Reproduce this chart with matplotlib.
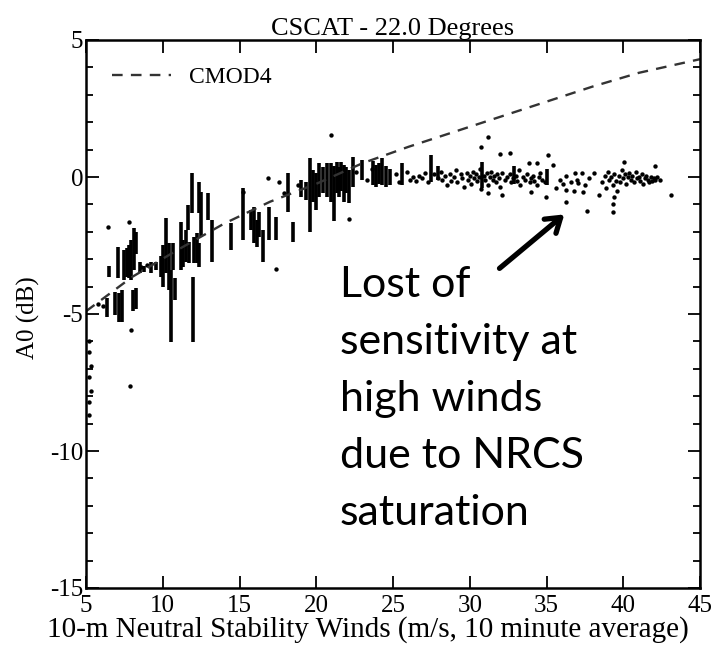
import matplotlib
matplotlib.use("Agg")
import matplotlib.pyplot as plt
from matplotlib.ticker import MultipleLocator

# CMOD4 model curve (wind speed, dB)
cmod_u = [5, 8, 11, 14, 17, 20, 23, 26, 29, 32, 35, 38, 41, 45]
cmod_db = [-4.9, -3.65, -2.65, -1.7, -0.9, -0.25, 0.5, 1.1, 1.65, 2.2, 2.75, 3.3, 3.8, 4.3]

# vertical streaks of measurements at low winds (x, low, high)
streak_x = [6.35, 6.48, 6.91, 7.06, 7.17, 7.35, 7.5, 7.65, 7.78, 7.93, 8.04, 8.15,
            8.26, 8.26, 8.52, 8.8, 9.23, 9.56, 9.89, 10.04, 10.21, 10.39, 10.54, 10.69,
            10.82, 11.19, 11.34, 11.51, 11.62, 11.73, 11.9, 11.95, 12.06, 12.21, 12.34,
            12.38, 12.51, 12.93, 13.21, 14.45, 15.21, 15.75, 15.97, 16.12, 16.29, 16.5,
            16.94, 17.38, 18.14, 18.46, 19.0, 19.33, 19.59, 19.81, 19.98, 20.2, 20.46,
            20.68, 20.96, 21.18, 21.33, 21.48, 21.61, 21.78, 21.93, 22.15, 22.37, 23.0,
            23.7, 23.9, 24.1, 24.3, 24.55, 24.8, 25.6, 27.5, 27.9, 30.8, 32.9, 35.0]
streak_lo = [-5.10, -3.66, -5.04, -3.70, -5.28, -5.28, -3.76, -3.64, -3.70, -3.76, -4.90, -3.40,
             -2.80, -4.80, -3.50, -3.45, -3.50, -3.40, -3.64, -4.00, -3.52, -4.12, -6.01, -3.40,
             -4.50, -3.40, -3.27, -3.09, -1.93, -3.15, -1.33, -6.01, -3.15, -3.15, -1.33,
             -3.27, -2.18, -1.57, -3.09, -2.66, -2.30, -1.93, -2.42, -2.54, -2.18, -3.09,
             -2.30, -2.30, -1.27, -2.36, -0.72, -0.85, -2.00, -0.90, -1.20, -0.72, -0.60,
             -0.72, -0.90, -1.60, -0.60, -0.72, -0.50, -0.90, -0.60, -0.96, -0.36, -0.10,
             -0.30, -0.36, -0.25, -0.30, -0.35, -0.30, -0.30, -0.17, -0.10, -0.40, -0.25, -0.30]
streak_hi = [-4.43, -3.25, -4.19, -2.54, -4.25, -4.12, -2.66, -2.60, -2.48, -2.30, -4.12, -1.87,
             -2.00, -4.06, -3.09, -3.25, -3.09, -3.09, -2.90, -2.48, -1.51, -2.42, -3.40, -2.42,
             -3.70, -1.63, -2.30, -1.94, -1.02, -2.36, 0.13, -3.64, -2.18, -2.06, -0.17,
             -2.42, -0.54, -0.60, -1.57, -1.69, -0.41, -1.20, -1.08, -1.57, -1.27, -1.94,
             -1.08, -1.45, 0.13, -1.63, -0.10, -0.20, 0.68, 0.25, 0.15, 0.50, 0.38,
             0.50, 0.50, 0.40, 0.55, 0.35, 0.55, 0.45, 0.35, 0.25, 0.74, 0.62,
             0.60, 0.45, 0.50, 0.70, 0.40, 0.30, 0.50, 0.80, 0.40, 0.55, 0.40, 0.30]

# individual measurements (mostly at high winds)
dot_x = [5.2, 5.2, 5.3, 5.2, 5.3, 5.2, 5.2, 5.8, 6.1, 6.41, 7.82, 7.93, 7.87, 8.6, 9.0,
         15.2, 16.83, 17.38, 17.6, 17.9, 18.8, 20.96, 22.15, 22.6, 23.3, 23.6,
         25.2, 25.4, 25.9, 26.1, 26.3, 26.5, 26.7, 26.9, 27.1, 27.3, 27.7, 27.9, 28.1,
         28.2, 28.4, 28.5, 28.7, 28.8, 29.0, 29.1, 29.2, 29.4, 29.5, 29.6, 29.8, 29.9,
         30.0, 30.1, 30.2, 30.3, 30.4, 30.5, 30.6, 30.7, 30.9, 31.0, 31.1, 31.2, 31.3,
         31.4, 31.5, 31.6, 31.7, 31.8, 31.9, 32.0, 32.1, 32.3, 32.4, 32.6, 32.7, 32.8,
         33.0, 33.1, 33.2, 33.3, 33.5, 33.6, 33.7, 33.9, 34.0, 34.1, 34.2, 34.4, 34.5,
         34.6, 34.7, 34.9, 35.6, 35.9, 36.1, 36.3, 36.6, 36.8, 37.0, 37.3, 37.5, 37.8,
         38.6, 38.8, 38.9, 39.0, 39.1, 39.2, 39.3, 39.4, 39.5, 39.6, 39.7, 39.8, 39.9,
         40.0, 40.1, 40.2, 40.3, 40.4, 40.5, 40.6, 40.7, 40.8, 40.9, 41.0, 41.1, 41.2,
         41.3, 41.4, 41.5, 41.6, 41.7, 41.8, 41.9, 42.0, 42.1, 42.2, 42.4,
         31.19, 30.74, 31.97, 32.63, 35.08, 33.86, 34.41, 35.41, 30.74, 31.19, 32.08,
         33.97, 34.97, 36.3, 37.63, 39.3, 36.86, 38.08, 37.41, 38.41, 40.08, 42.08,
         43.08, 36.3, 37.08, 39.3, 39.4]
dot_y = [-6.0, -6.4, -6.9, -7.3, -7.8, -8.2, -8.7, -4.62, -4.72, -1.81, -1.63, -5.58, -7.63, -3.3, -3.2,
         -0.54, -0.05, -3.37, -0.17, -0.6, -0.3, 1.53, -1.55, 0.2, -0.1, 0.3,
         0.1, -0.2, 0.2, -0.1, 0.0, -0.15, 0.05, -0.05, 0.15, -0.2, 0.1, -0.05, 0.2,
         -0.1, 0.05, -0.3, 0.1, -0.15, 0.0, 0.25, -0.2, 0.1, -0.05, -0.35, 0.15, -0.1,
         0.05, -0.25, 0.2, -0.05, 0.1, -0.15, 0.0, 0.3, 0.05, -0.1, 0.15, -0.3, 0.0,
         0.2, -0.1, 0.05, -0.2, 0.1, -0.05, -0.35, 0.15, -0.1, 0.0, 0.1, -0.2, -0.05,
         0.05, -0.15, 0.25, -0.3, 0.0, -0.1, 0.1, -0.2, -0.05, 0.05, -0.15, -0.3, 0.0,
         0.15, -0.1, -0.2, -0.4, -0.1, -0.25, 0.05, -0.2, -0.5, -0.1, 0.15, -0.3, -0.05,
         -0.2, 0.05, -0.4, 0.2, -0.1, 0.0, -0.3, 0.1, -0.15, -0.5, 0.05, -0.2, 0.25,
         -0.05, 0.1, -0.25, 0.0, 0.15, -0.1, 0.05, -0.2, 0.2, -0.05, 0.0, -0.15, 0.1,
         -0.25, -0.05, 0.05, -0.1, -0.2, 0.0, -0.15, -0.05, -0.1, 0.0, -0.1,
         1.47, 1.08, 0.84, 0.86, 0.80, 0.50, 0.52, 0.44, -0.45, -0.60, -0.66,
         -0.54, -0.72, -0.90, -1.24, -1.27, 0.13, 0.16, -0.54, -0.66, 0.56, 0.40,
         -0.66, -0.48, -0.23, -1.0, -0.72]

title = "CSCAT - 22.0 Degrees"
note = "Lost of\nsensitivity at\nhigh winds\ndue to NRCS\nsaturation"

serif = "Liberation Serif"
plt.rcParams["axes.unicode_minus"] = False

fig = plt.figure(figsize=(7.13, 6.55), dpi=100)
ax = fig.add_axes([86 / 713, 1 - 588 / 655, 614 / 713, 548 / 655])

ax.vlines(streak_x, streak_lo, streak_hi, color="black", lw=2.6)
ax.scatter(dot_x, dot_y, s=10, color="black", linewidths=0)
ax.plot(cmod_u, cmod_db, color="#333333", lw=1.7, ls=(0, (4.5, 3.5)), label="CMOD4")

ax.set_xlim(5, 45)
ax.set_ylim(-15, 5)
ax.xaxis.set_major_locator(MultipleLocator(5))
ax.yaxis.set_major_locator(MultipleLocator(5))
ax.yaxis.set_minor_locator(MultipleLocator(1))
ax.tick_params(which="both", direction="in", top=True, right=True, width=1.3)
ax.tick_params(which="major", length=9, labelsize=18)
ax.tick_params(axis="x", which="major", pad=5)
ax.tick_params(axis="y", which="major", pad=2)
ax.tick_params(which="minor", length=5)
for lab in ax.get_xticklabels() + ax.get_yticklabels():
    lab.set_fontfamily(serif)
for sp in ax.spines.values():
    sp.set_linewidth(1.8)

ax.set_title(title, fontfamily=serif, fontsize=19, pad=2)
ax.set_xlabel("10-m Neutral Stability Winds (m/s, 10 minute average)",
              fontfamily=serif, fontsize=21)
ax.xaxis.set_label_coords((368 - 86) / 614, -0.052)
ax.set_ylabel("A0 (dB)", fontfamily=serif, fontsize=18)
ax.yaxis.set_label_coords(-0.075, 0.494)

leg = ax.legend(loc="upper left", frameon=False, handlelength=2.5, handletextpad=0.75,
                prop={"family": serif, "size": 17}, bbox_to_anchor=(0.008, 0.99))

ax.text(340 / 713, 1 - 266 / 655, note, transform=fig.transFigure, ha="left",
        va="top", fontfamily="Lato", fontsize=31, linespacing=1.61)
ax.annotate("", xy=(36.3, -1.3), xytext=(31.8, -3.4),
            arrowprops=dict(arrowstyle="->,head_length=0.45,head_width=0.3",
                            color="black", lw=3.8, mutation_scale=22))

fig.savefig("out.png", dpi=100)
